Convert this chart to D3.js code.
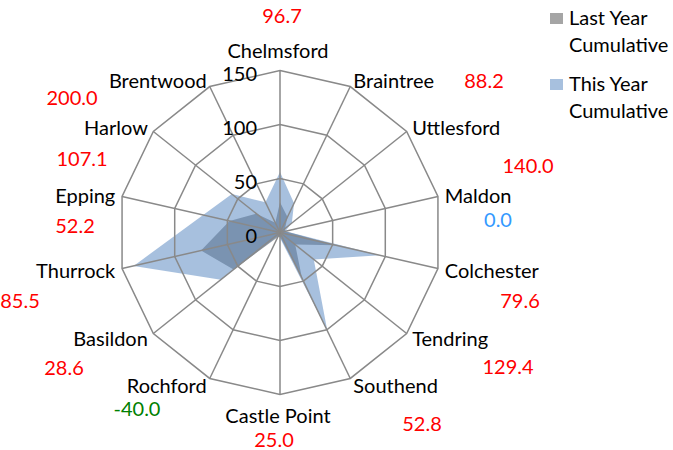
<!DOCTYPE html>
<meta charset="utf-8">
<title>Radar - cumulative by district</title>
<style>
  body { margin: 0; background: #fff; }
  text { font-family: Lato, "Liberation Sans", sans-serif; }
</style>
<body>
<script src="https://d3js.org/d3.v7.min.js"></script>
<script>
    // districts, clockwise from the top
    var categories = ["Chelmsford", "Braintree", "Uttlesford", "Maldon", "Colchester", "Tendring",
                      "Southend", "Castle Point", "Rochford", "Basildon", "Thurrock", "Epping",
                      "Harlow", "Brentwood"];
    var lastYear = [28, 16, 6, 5, 53, 18, 47, 4, 5, 55, 75, 48, 28, 10];
    var thisYear = [56, 30, 14, 5, 95, 40, 101, 5, 3, 70, 139, 73, 57, 31];
    var changes  = ["96.7", "88.2", "140.0", "0.0", "79.6", "129.4", "52.8", "25.0",
                    "-40.0", "28.6", "85.5", "52.2", "107.1", "200.0"];
    var ticks = [0, 50, 100, 150];
    var seriesNames = ["Last Year Cumulative", "This Year Cumulative"];

    // where the change figures sit (manually placed boxes in the original)
    var changeAt = [[282, 15], [484, 80], [528, 165], [498, 219], [520, 300], [508, 366],
                    [422, 423], [274, 439], [137, 408], [64, 367], [20, 300], [75, 225],
                    [82, 158], [72, 97]];

    var width = 673, height = 450;
    var cx = 280, cy = 232.5;
    var fs = 20;

    var svg = d3.select("body").append("svg")
        .attr("width", width)
        .attr("height", height);

    var r = d3.scaleLinear().domain([0, 150]).range([0, 162]);
    var angle = d3.scaleLinear().domain([0, categories.length]).range([0, 2 * Math.PI]);

    var g = svg.append("g").attr("transform", "translate(" + cx + "," + cy + ")");

    var radial = d3.lineRadial()
        .angle(function(d, i) { return angle(i); })
        .radius(function(d) { return r(d); })
        .curve(d3.curveLinearClosed);

    function changeColor(v) {
        var n = +v;
        if (n > 0) return "#ff0000";
        if (n < 0) return "#008000";
        return "#3399ff";
    }

    // series fills
    g.append("path")
        .datum(lastYear)
        .attr("d", radial)
        .attr("fill", "#a5a5a5");

    g.append("path")
        .datum(thisYear)
        .attr("d", radial)
        .attr("fill", "#4f81bd")
        .attr("fill-opacity", 0.5);

    // grid rings + spokes on top
    var grid = g.append("g")
        .attr("fill", "none")
        .attr("stroke", "#898989")
        .attr("stroke-width", 1.5);

    grid.selectAll("path.ring")
        .data(ticks.filter(function(t) { return t > 0; }))
        .join("path")
        .attr("class", "ring")
        .attr("d", function(t) { return radial(categories.map(function() { return t; })); });

    grid.selectAll("line")
        .data(categories)
        .join("line")
        .attr("x1", 0).attr("y1", 0)
        .attr("x2", function(d, i) { return r(150) * Math.sin(angle(i)); })
        .attr("y2", function(d, i) { return -r(150) * Math.cos(angle(i)); });

    // tick labels left of the vertical spoke
    g.selectAll("text.tick")
        .data(ticks)
        .join("text")
        .attr("class", "tick")
        .attr("x", -23)
        .attr("y", function(t) { return -r(t) + 2; })
        .attr("text-anchor", "end")
        .attr("dominant-baseline", "central")
        .attr("font-size", fs)
        .attr("fill", "#000")
        .text(function(t) { return t; });

    // category labels
    g.selectAll("text.cat")
        .data(categories)
        .join("text")
        .attr("class", "cat")
        .attr("x", function(d, i) {
            var s = Math.sin(angle(i));
            return Math.abs(s) < 0.1 ? -2 : (r(150) + 7) * s;
        })
        .attr("y", function(d, i) {
            var s = Math.sin(angle(i)), c = Math.cos(angle(i));
            if (Math.abs(s) < 0.1) return c > 0 ? -r(150) - 21 : r(150) + 20;
            return -(r(150) + 7) * c;
        })
        .attr("text-anchor", function(d, i) {
            var s = Math.sin(angle(i));
            return Math.abs(s) < 0.1 ? "middle" : (s > 0 ? "start" : "end");
        })
        .attr("dominant-baseline", "central")
        .attr("font-size", fs)
        .attr("fill", "#000")
        .text(function(d) { return d; });

    // change figures
    svg.selectAll("text.chg")
        .data(changes)
        .join("text")
        .attr("class", "chg")
        .attr("x", function(d, i) { return changeAt[i][0]; })
        .attr("y", function(d, i) { return changeAt[i][1]; })
        .attr("text-anchor", "middle")
        .attr("dominant-baseline", "central")
        .attr("font-size", fs)
        .attr("fill", function(d) { return changeColor(d); })
        .text(function(d) { return d; });

    // legend
    var legend = svg.append("g").attr("transform", "translate(550,0)");
    var swatches = [{fill: "#a5a5a5", op: 1, y: 13}, {fill: "#4f81bd", op: 0.5, y: 79}];
    seriesNames.forEach(function(name, i) {
        var words = name.split(" ");
        legend.append("rect")
            .attr("x", 0).attr("y", swatches[i].y)
            .attr("width", 13).attr("height", 11)
            .attr("fill", swatches[i].fill)
            .attr("fill-opacity", swatches[i].op);
        legend.append("text")
            .attr("x", 19).attr("y", swatches[i].y + 4)
            .attr("dominant-baseline", "central")
            .attr("font-size", fs)
            .text(words.slice(0, 2).join(" "));
        legend.append("text")
            .attr("x", 19).attr("y", swatches[i].y + 31)
            .attr("dominant-baseline", "central")
            .attr("font-size", fs)
            .text(words.slice(2).join(" "));
    });
</script>
</body>
